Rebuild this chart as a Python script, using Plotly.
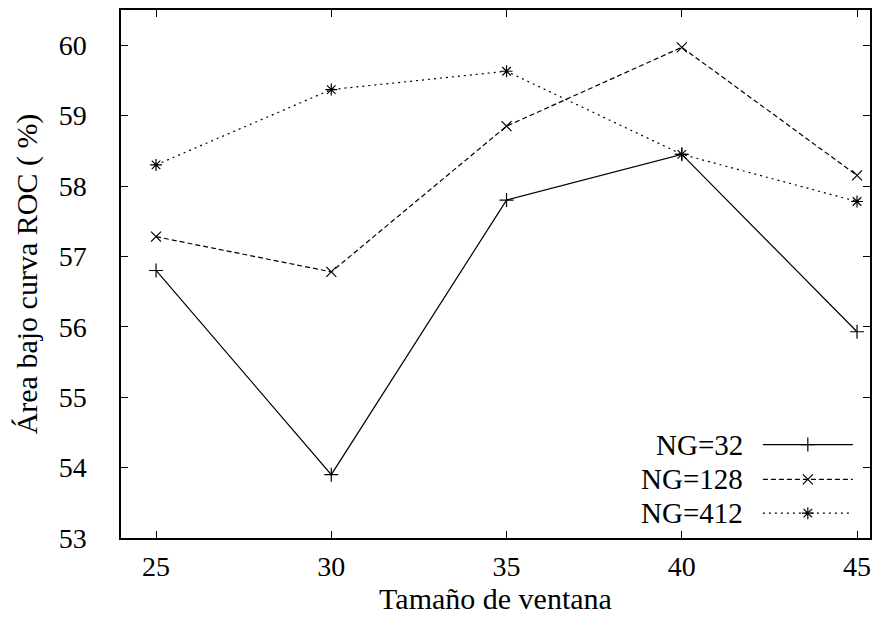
import plotly.graph_objects as go

ventana = [25, 30, 35, 40, 45]
ng32 = [56.80, 53.90, 57.80, 58.45, 55.93]
ng128 = [57.28, 56.78, 58.85, 59.97, 58.15]
ng412 = [58.30, 59.37, 59.63, 58.45, 57.78]
series_names = ["NG=32", "NG=128", "NG=412"]
y_ticks = [53, 54, 55, 56, 57, 58, 59, 60]

FONT = "Liberation Serif, Times New Roman, Times, serif"
FS_TICK = 28
FS_TITLE = 30
FS_LEG = 29
styles = [
    dict(dash="solid", symbol="cross-thin-open"),
    dict(dash="5px,3px", symbol="x-thin-open"),
    dict(dash="2px,4px", symbol="asterisk-open"),
]

fig = go.Figure()
for name, vals, st in zip(series_names, [ng32, ng128, ng412], styles):
    fig.add_trace(go.Scatter(
        x=ventana, y=vals, name=name, mode="lines+markers",
        line=dict(color="black", width=1.2, dash=st["dash"]),
        marker=dict(symbol=st["symbol"], size=10, color="black",
                    line=dict(color="black", width=1.2)),
        showlegend=False,
    ))

# custom gnuplot-style legend (text right, sample to the right)
leg_y = [0.177, 0.111, 0.047]
for name, st, ly in zip(series_names, styles, leg_y):
    fig.add_trace(go.Scatter(
        x=[0.857, 0.917, 0.977], y=[ly, ly, ly], xaxis="x2", yaxis="y2",
        mode="lines", line=dict(color="black", width=1.2, dash=st["dash"]),
        showlegend=False, hoverinfo="skip"))
    fig.add_trace(go.Scatter(
        x=[0.917], y=[ly], xaxis="x2", yaxis="y2", mode="markers",
        marker=dict(symbol=st["symbol"], size=10, color="black",
                    line=dict(color="black", width=1.2)),
        showlegend=False, hoverinfo="skip"))
    fig.add_annotation(x=0.833, y=ly, xref="x2", yref="y2", text=name,
                       showarrow=False, xanchor="right", yanchor="middle",
                       font=dict(family=FONT, size=FS_LEG, color="black"))

axis_common = dict(
    showgrid=False, zeroline=False, showline=True, linecolor="black",
    linewidth=1.5, mirror="allticks", ticks="inside", ticklen=7,
    tickcolor="black", tickwidth=1.2,
    tickfont=dict(family=FONT, size=FS_TICK, color="black"),
)

fig.update_layout(
    width=884, height=636,
    margin=dict(l=121, r=14, t=8, b=98),
    plot_bgcolor="white", paper_bgcolor="white",
    font=dict(family=FONT, size=FS_TICK, color="black"),
    xaxis=dict(range=[24, 45.37], tickvals=ventana, ticktext=[str(v) for v in ventana],
               ticklabelstandoff=3,
               title=dict(text="Tamaño de ventana", font=dict(family=FONT, size=FS_TITLE, color="black"),
                          standoff=3),
               **axis_common),
    yaxis=dict(range=[53, 60.5], tickvals=y_ticks, ticktext=[str(v) for v in y_ticks],
               ticklabelstandoff=27,
               title=dict(text="Área bajo curva ROC ( %)", font=dict(family=FONT, size=FS_TITLE, color="black"),
                          standoff=12),
               **axis_common),
    xaxis2=dict(overlaying="x", range=[0, 1], visible=False, fixedrange=True),
    yaxis2=dict(overlaying="y", range=[0, 1], visible=False, fixedrange=True),
    showlegend=False,
)

fig.write_html("out.html")
